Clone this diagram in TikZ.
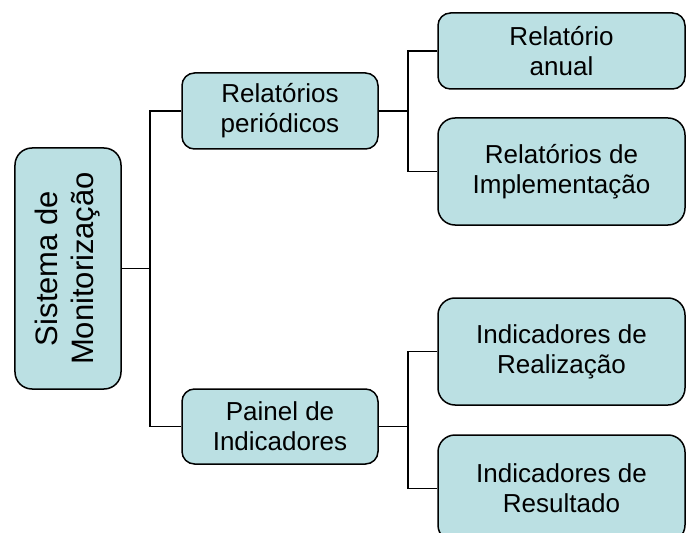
\documentclass[tikz,border=0pt]{standalone}
\usepackage{fontspec}
\setmainfont{Liberation Sans}
\usepackage{xcolor}
\definecolor{boxfill}{HTML}{BBE0E3}

\begin{document}
\begin{tikzpicture}[x=1bp,y=-1bp]
\tikzstyle{root} = [rectangle, draw=black, line width=1.5bp, fill=boxfill,
rotate=90, align=center, inner sep=0pt, rounded corners=17bp,
minimum width=241bp, minimum height=106bp, font=\fontsize{31bp}{36bp}\selectfont]

\tikzstyle{block} = [rectangle, draw=black, line width=1.5bp, fill=boxfill,
align=center, inner sep=0pt, rounded corners=12.5bp,
minimum width=196bp, minimum height=76bp, font=\fontsize{26bp}{30bp}\selectfont]
\tikzstyle{block_big} = [block, minimum width=247bp, minimum height=107bp,
rounded corners=17bp]
\tikzstyle{line} = [draw, line width=1.3bp];

\useasboundingbox (0,0) rectangle (686,533);
\clip (0,0) rectangle (686,533);

% left
\node [root] (sistema) at (68,268.5) {Sistema de\\Monitorização};
% middle
\node [block] (periodicos) at (280,111) {Relatórios\\periódicos};
\node [block, minimum height=75bp] (painel) at (280,426.5) {Painel de\\Indicadores};
% right
\node [block_big, minimum height=76bp, rounded corners=12.5bp] (anual) at (561.5,51) {Relatório\\anual};
\node [block_big] (implementacao) at (561.5,171.5) {Relatórios de\\Implementação};
\node [block_big] (realizacao) at (561.5,351.5) {Indicadores de\\Realização};
\node [block_big] (resultado) at (561.5,488.5) {Indicadores de\\Resultado};

\coordinate (busL) at (150,268.5);
\coordinate (busR1) at (408,111);
\coordinate (busR2) at (408,426.5);

\tikzstyle{every path}=[line]
\path (sistema) -- (busL);
\path (periodicos.west) -| (busL) |- (painel.west);
\path (periodicos) -- (busR1);
\path (anual.west) -| (busR1) |- (implementacao.west);
\path (painel) -- (busR2);
\path (realizacao.west) -| (busR2) |- (resultado.west);
\end{tikzpicture}
\end{document}
